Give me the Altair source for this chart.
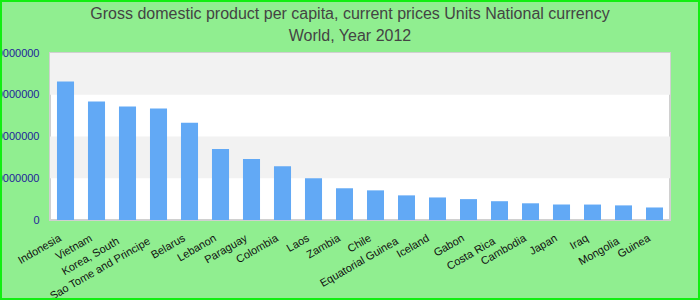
import altair as alt
import pandas as pd

countries = ["Indonesia", "Vietnam", "Korea, South", "Sao Tome and Principe", "Belarus",
             "Lebanon", "Paraguay", "Colombia", "Laos", "Zambia", "Chile",
             "Equatorial Guinea", "Iceland", "Gabon", "Costa Rica", "Cambodia",
             "Japan", "Iraq", "Mongolia", "Guinea"]
gdp = [33200000, 28400000, 27200000, 26700000, 23300000,
       17000000, 14600000, 12900000, 10000000, 7600000, 7100000,
       5900000, 5400000, 5000000, 4500000, 4000000,
       3700000, 3700000, 3500000, 3000000]
y_ticks = [0, 10000000, 20000000, 30000000, 40000000]
band_lo = [10000000, 30000000]
band_hi = [20000000, 40000000]
shift_back = ["Korea, South", "Sao Tome and Principe", "Equatorial Guinea", "Iceland"]
shift_down = ["Korea, South", "Sao Tome and Principe", "Equatorial Guinea", "Costa Rica", "Mongolia"]

df = pd.DataFrame({"country": countries, "gdp": gdp})
bands = pd.DataFrame({"lo": band_lo, "hi": band_hi})

W, H = 620, 167
PL, PT, PR, PB = 50, 53, 30, 80


def in_list(names):
    quoted = ",".join("'" + n + "'" for n in names)
    return "indexof([" + quoted + "], datum.value) >= 0"


yscale = alt.Scale(domain=[0, 40000000], nice=False)
yaxis = alt.Axis(values=y_ticks, format="d", grid=False, ticks=False,
                 domain=False, labelFont="Liberation Sans", labelFontSize=11,
                 labelColor="#22229a", labelPadding=11)

band_layer = alt.Chart(bands).mark_rect(color="#f2f2f2").encode(
    x=alt.value(0), x2=alt.value(W),
    y=alt.Y("lo:Q", scale=yscale, axis=yaxis, title=None),
    y2="hi:Q",
)

bars = alt.Chart(df).mark_bar(color="#62a9f5").encode(
    x=alt.X("country:N", sort=countries, title=None,
            scale=alt.Scale(paddingInner=0.45, paddingOuter=0.225),
            axis=alt.Axis(labelAngle=-30, labelAlign="right", labelBaseline="top",
                          labelFont="Liberation Sans", labelFontSize=11,
                          labelColor="#111111", ticks=False, domain=False,
                          labelPadding={"condition": {"test": in_list(shift_down), "value": 15},
                                        "value": 12},
                          labelOffset={"condition": {"test": in_list(shift_back), "value": -12},
                                       "value": -8},
                          labelOverlap=False, labelLimit=300)),
    y=alt.Y("gdp:Q", scale=yscale, title=None, axis=yaxis),
)

border = alt.Chart(pd.DataFrame({"k": [0]})).mark_rect(
    fill=None, stroke="#11ee11", strokeWidth=2
).encode(x=alt.value(-PL + 1), x2=alt.value(W + PR - 1),
         y=alt.value(-PT + 1), y2=alt.value(H + PB - 1))

chart = alt.layer(band_layer, bars, border).properties(
    width=W, height=H,
    autosize=alt.AutoSizeParams(type="none"),
    padding={"left": PL, "top": PT, "right": PR, "bottom": PB},
    background="#90ee90",
    title=alt.TitleParams(
        text=["Gross domestic product per capita, current prices Units National currency",
              "World, Year 2012"],
        font="Liberation Sans", fontSize=16, fontWeight="normal", color="#444444",
        anchor="middle", dx=-10, lineHeight=22, offset=6, baseline="bottom", dy=66),
).configure_view(fill="white", stroke="#d0d0d0", strokeWidth=2)

chart.save("out.html", embed_options={"renderer": "svg", "actions": False})
